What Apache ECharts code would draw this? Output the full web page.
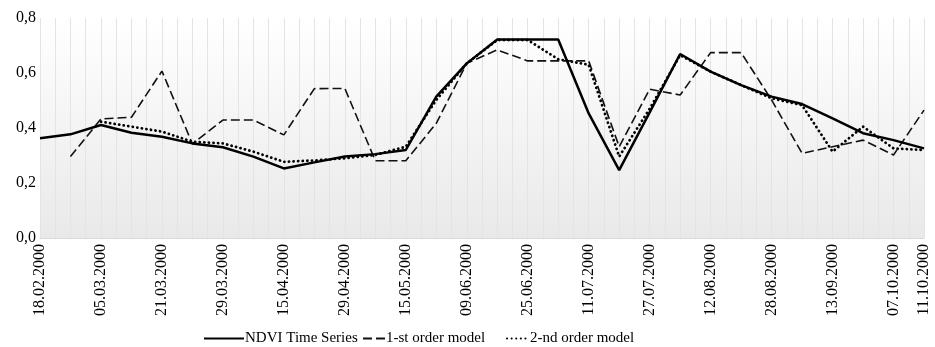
<!DOCTYPE html>
<html>
<head>
<meta charset="utf-8">
<script src="https://cdn.jsdelivr.net/npm/echarts@6/dist/echarts.min.js"></script>
<style>html,body{margin:0;padding:0;background:#fff}#c{width:935px;height:347px}</style>
</head>
<body>
<div id="c"></div>
<script>
// Category labels (only every other date is printed in the reference)
const dates = ['18.02.2000','','05.03.2000','','21.03.2000','','29.03.2000','','15.04.2000','',
  '29.04.2000','','15.05.2000','','09.06.2000','','25.06.2000','','11.07.2000','',
  '27.07.2000','','12.08.2000','','28.08.2000','','13.09.2000','','07.10.2000','11.10.2000'];

const ndvi = [0.363,0.377,0.411,0.383,0.368,0.344,0.330,0.296,0.253,0.275,
  0.296,0.305,0.320,0.514,0.635,0.722,0.722,0.722,0.453,0.247,
  0.457,0.669,0.605,0.556,0.514,0.487,0.435,0.381,0.356,0.326];

const model1 = [null,0.296,0.433,0.439,0.607,0.342,0.429,0.429,0.375,0.543,
  0.544,0.281,0.281,0.417,0.635,0.684,0.644,0.644,0.644,0.332,
  0.541,0.520,0.674,0.674,0.502,0.308,0.332,0.356,0.302,0.465];

const model2 = [null,null,0.423,0.405,0.387,0.350,0.344,0.314,0.277,0.282,
  0.290,0.302,0.332,0.502,0.635,0.720,0.720,0.650,0.630,0.296,
  0.470,0.665,0.605,0.556,0.508,0.483,0.314,0.405,0.326,0.320];

const seriesNames = ['NDVI Time Series', '1-st order model', '2-nd order model'];
const yTicks = [0, 0.2, 0.4, 0.6, 0.8];

const chart = echarts.init(document.getElementById('c'));
const font = 'Liberation Serif';
const legendBase = {
  top: 331, itemHeight: 12, padding: 0,
  itemStyle: {opacity: 0},
  textStyle: {fontFamily: font, fontSize: 15, color: '#000', padding: [0, 0, 0, -4]}
};
chart.setOption({
  animation: false,
  grid: {
    left: 40, right: 11, top: 18, bottom: 109,
    show: true, borderWidth: 0,
    backgroundColor: new echarts.graphic.LinearGradient(0, 0, 0, 1, [
      {offset: 0, color: '#ffffff'}, {offset: 1, color: '#e9e9e9'}
    ])
  },
  legend: [
    Object.assign({}, legendBase, {left: 203, itemWidth: 40, data: [seriesNames[0]]}),
    Object.assign({}, legendBase, {left: 362, itemWidth: 22, data: [seriesNames[1]]}),
    Object.assign({}, legendBase, {left: 506, itemWidth: 22, data: [seriesNames[2]]})
  ],
  xAxis: [{
    type: 'category', data: dates, boundaryGap: false,
    axisLine: {show: true, lineStyle: {color: '#d8d8d8'}},
    axisTick: {show: false},
    splitLine: {show: true, lineStyle: {color: '#d6d6d6', width: 1}},
    axisLabel: {interval: 0, rotate: 90, fontFamily: font, fontSize: 16, color: '#000', margin: 6}
  }, {
    type: 'value', min: 0, max: dates.length - 1, interval: 0.5, show: true,
    position: 'bottom',
    axisLine: {show: false}, axisTick: {show: false}, axisLabel: {show: false},
    splitLine: {show: true, lineStyle: {color: '#e4e4e4', width: 1}}
  }],
  yAxis: {
    type: 'value', min: yTicks[0], max: yTicks[yTicks.length - 1], interval: 0.2,
    axisLine: {show: false}, axisTick: {show: false},
    splitLine: {show: false},
    axisLabel: {fontFamily: font, fontSize: 16, color: '#000', margin: 4,
      formatter: v => v.toFixed(1).replace('.', ',')}
  },
  series: [{
    name: seriesNames[0], type: 'line', data: ndvi, symbol: 'none',
    lineStyle: {color: '#000', width: 2.5}, itemStyle: {color: '#000'}, z: 5
  }, {
    name: seriesNames[1], type: 'line', data: model1, symbol: 'none',
    lineStyle: {color: '#111', width: 1.6, type: [9, 4]}, itemStyle: {color: '#111'}, z: 4
  }, {
    name: seriesNames[2], type: 'line', data: model2, symbol: 'none',
    lineStyle: {color: '#000', width: 2.8, type: [0.1, 4.5], cap: 'round'}, itemStyle: {color: '#000'}, z: 3
  }]
});
</script>
</body>
</html>
